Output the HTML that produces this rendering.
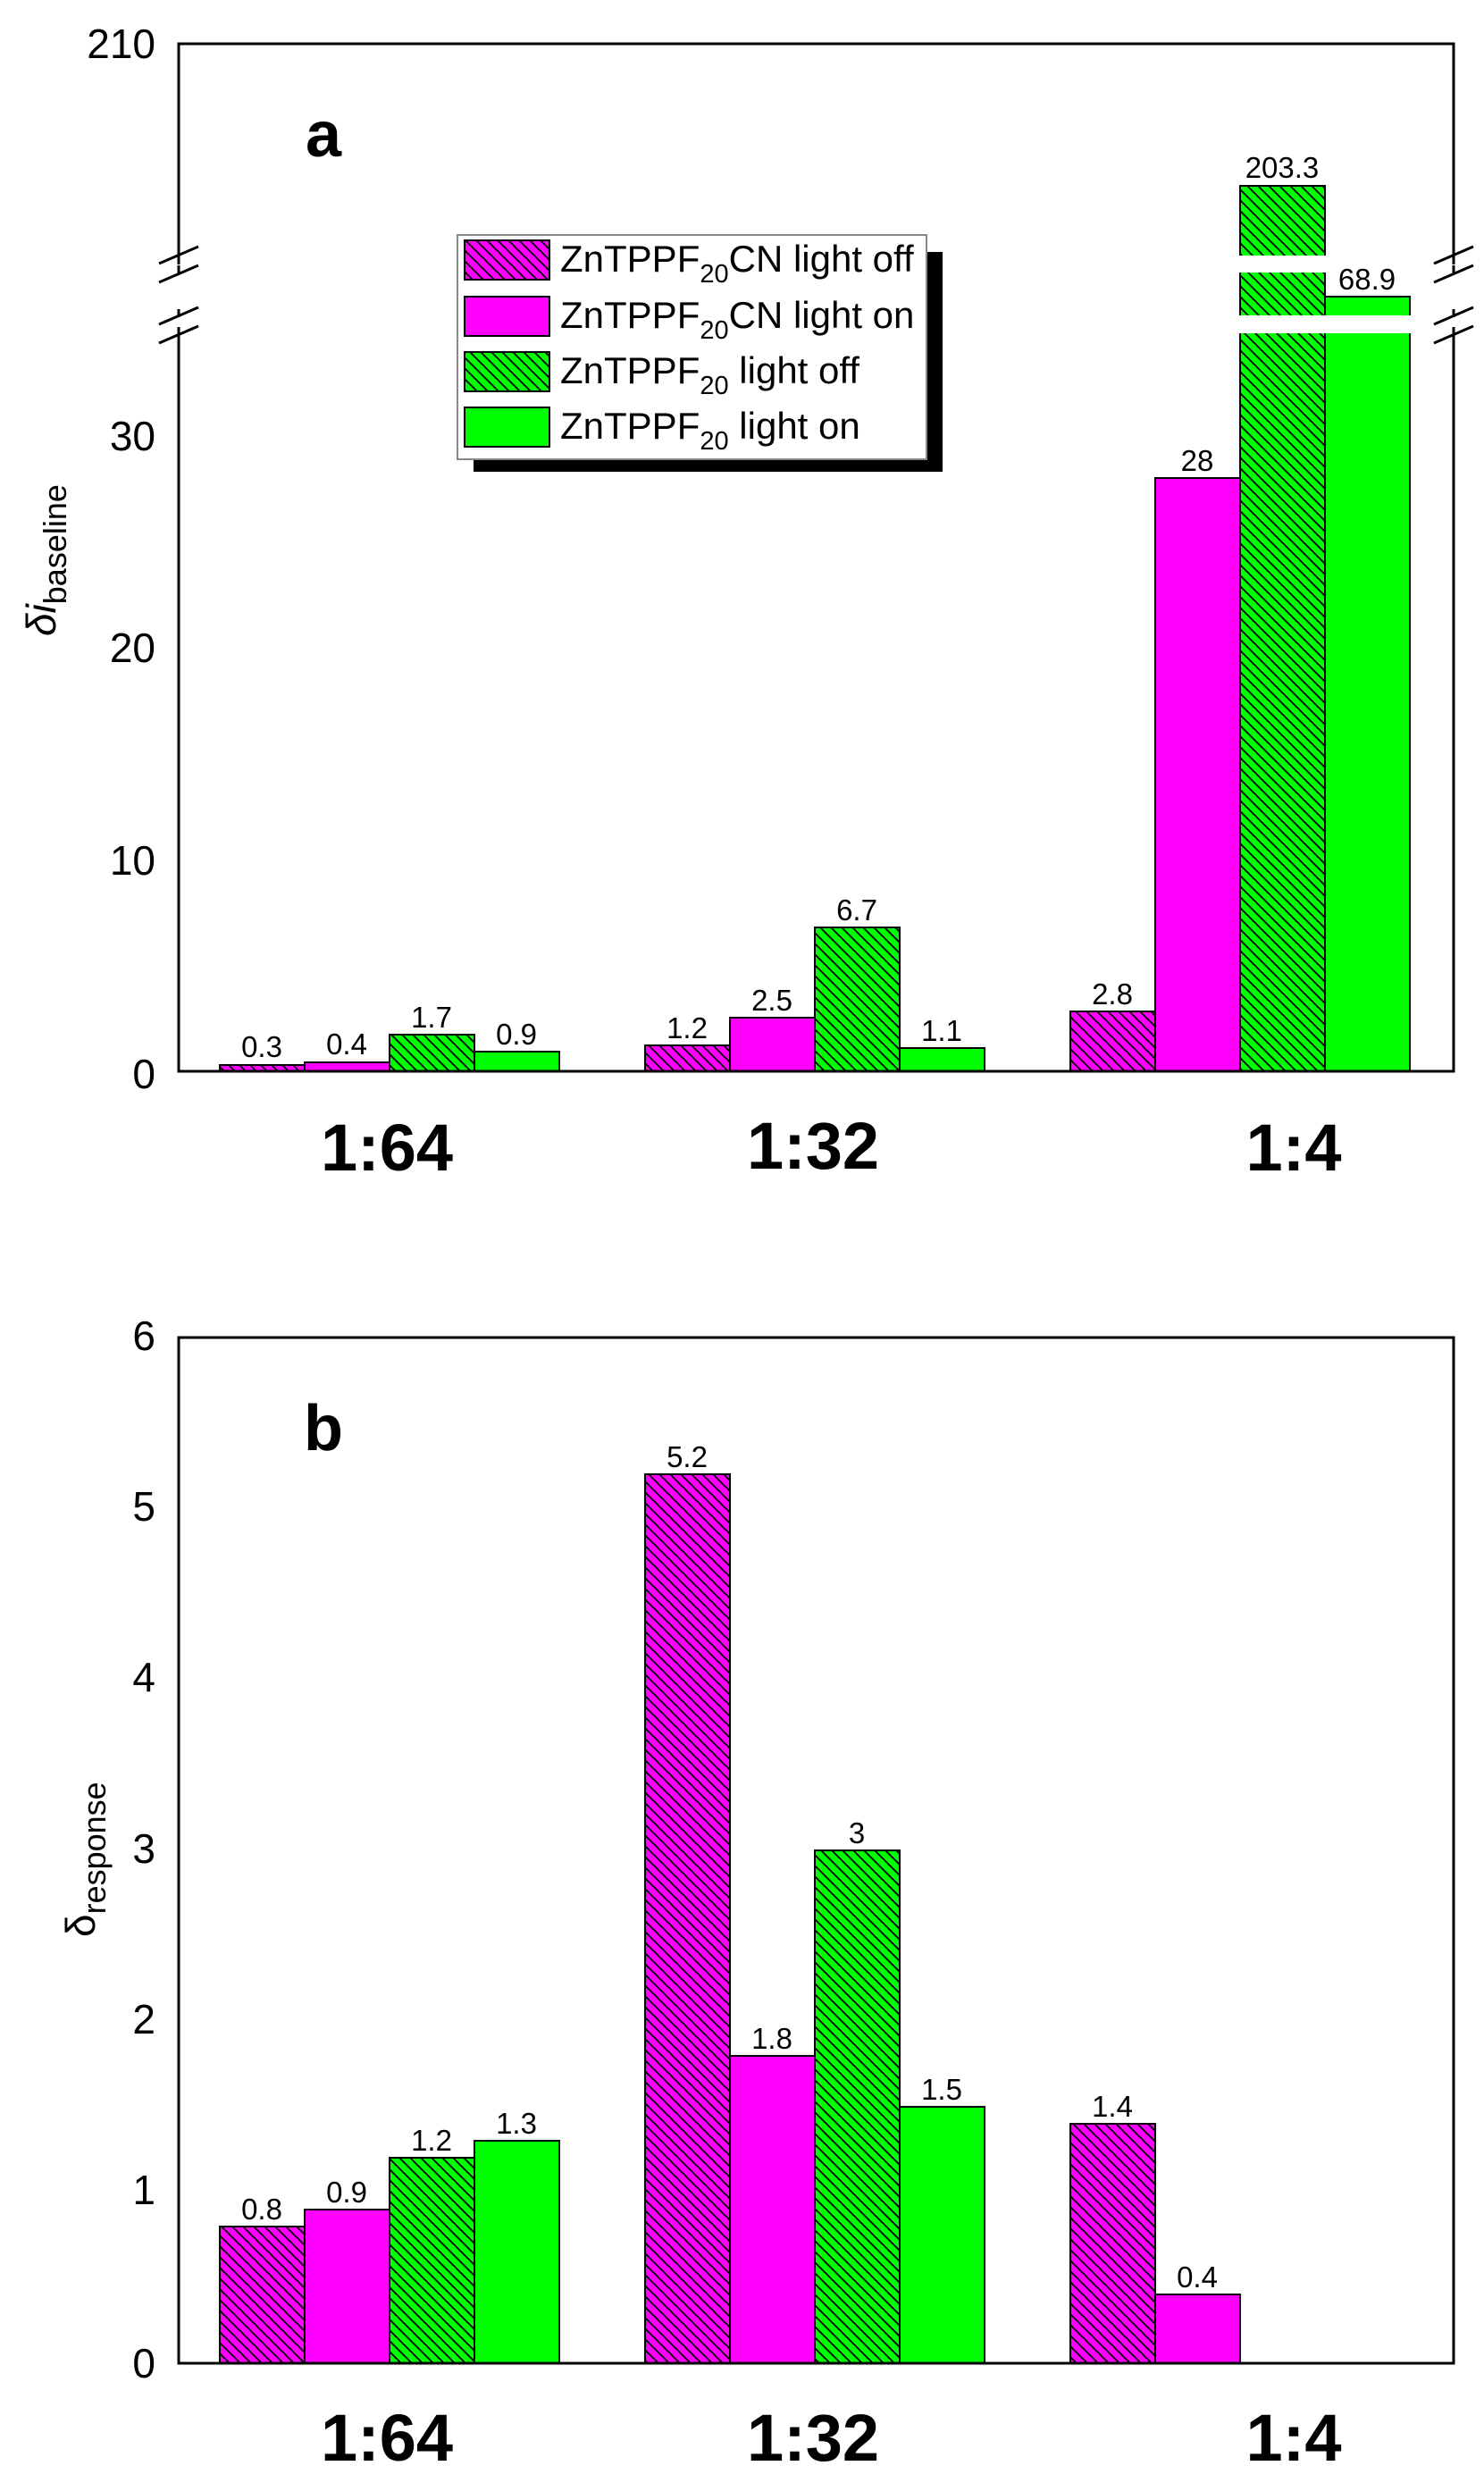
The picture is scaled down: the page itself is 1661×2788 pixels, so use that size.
<!DOCTYPE html>
<html><head><meta charset="utf-8"><style>
html,body{margin:0;padding:0;background:#fff}
svg{display:block}
text{font-family:"Liberation Sans",Arial,sans-serif;fill:#000}
</style></head><body>
<svg width="1661" height="2788" viewBox="0 0 1661 2788" xmlns="http://www.w3.org/2000/svg">
<defs>
<pattern id="hm" patternUnits="userSpaceOnUse" width="12" height="12">
<rect width="12" height="12" fill="#ff00ff"/>
<path d="M-3,-3 L15,15 M-3,9 L3,15 M9,-3 L15,3" stroke="#000" stroke-width="1.8"/>
</pattern>
<pattern id="hg" patternUnits="userSpaceOnUse" width="12" height="12">
<rect width="12" height="12" fill="#00ff00"/>
<path d="M-3,-3 L15,15 M-3,9 L3,15 M9,-3 L15,3" stroke="#000" stroke-width="1.8"/>
</pattern>
</defs>

<!-- ===== Panel a ===== -->
<g stroke="#000" stroke-width="2">
<rect x="246" y="1192" width="95" height="7" fill="url(#hm)"/>
<rect x="341" y="1189" width="95" height="10" fill="#ff00ff"/>
<rect x="436" y="1158" width="95" height="41" fill="url(#hg)"/>
<rect x="531" y="1177" width="95" height="22" fill="#00ff00"/>
<rect x="722" y="1170" width="95" height="29" fill="url(#hm)"/>
<rect x="817" y="1139" width="95" height="60" fill="#ff00ff"/>
<rect x="912" y="1038" width="95" height="161" fill="url(#hg)"/>
<rect x="1007" y="1173" width="95" height="26" fill="#00ff00"/>
<rect x="1198" y="1132" width="95" height="67" fill="url(#hm)"/>
<rect x="1293" y="535" width="95" height="664" fill="#ff00ff"/>
<rect x="1388" y="208" width="95" height="991" fill="url(#hg)"/>
<rect x="1483" y="332" width="95" height="867" fill="#00ff00"/>
</g>
<rect x="1380" y="286" width="110" height="19" fill="#fff"/>
<rect x="1380" y="353" width="205" height="20" fill="#fff"/>
<rect x="200" y="49" width="1427" height="1150" fill="none" stroke="#000" stroke-width="3"/>
<rect x="195" y="296" width="10" height="70" fill="#fff"/>
<rect x="1622" y="296" width="10" height="70" fill="#fff"/>
<g stroke="#000" stroke-width="3">
<path d="M178,295 L222,276 M178,316 L222,297 M178,363 L222,344 M178,384 L222,365"/>
<path d="M1605,295 L1649,276 M1605,316 L1649,297 M1605,363 L1649,344 M1605,384 L1649,365"/>
<path d="M200,297 V306 M200,346 V355 M1627,297 V306 M1627,346 V355"/>
</g>
<g font-size="46" text-anchor="end">
<text x="174" y="65">210</text>
<text x="174" y="504">30</text>
<text x="174" y="741">20</text>
<text x="174" y="979">10</text>
<text x="174" y="1218">0</text>
</g>
<g font-size="33" text-anchor="middle">
<text x="293" y="1183">0.3</text>
<text x="388" y="1180">0.4</text>
<text x="483" y="1150">1.7</text>
<text x="578" y="1169">0.9</text>
<text x="769" y="1162">1.2</text>
<text x="864" y="1131">2.5</text>
<text x="959" y="1030">6.7</text>
<text x="1054" y="1165">1.1</text>
<text x="1245" y="1124">2.8</text>
<text x="1340" y="527">28</text>
<text x="1435" y="199">203.3</text>
<text x="1530" y="324">68.9</text>
</g>
<text x="362" y="175" font-size="72" font-weight="bold" text-anchor="middle">a</text>
<g font-size="74" font-weight="bold" text-anchor="middle">
<text x="433" y="1310">1:64</text>
<text x="910" y="1308">1:32</text>
<text x="1448" y="1310">1:4</text>
</g>
<text transform="translate(62,712) rotate(-90)" font-size="46"><tspan font-style="italic">δi</tspan><tspan font-size="36" dy="12">baseline</tspan></text>

<!-- legend -->
<rect x="530" y="282" width="525" height="246" fill="#000"/>
<rect x="512" y="263" width="525" height="251" fill="#fff" stroke="#888" stroke-width="2"/>
<g stroke="#000" stroke-width="2">
<rect x="520" y="269" width="95" height="44" fill="url(#hm)"/>
<rect x="520" y="332" width="95" height="44" fill="#ff00ff"/>
<rect x="520" y="394" width="95" height="44" fill="url(#hg)"/>
<rect x="520" y="456" width="95" height="44" fill="#00ff00"/>
</g>
<g font-size="42">
<text x="627" y="304">ZnTPPF<tspan font-size="29" dy="12">20</tspan><tspan dy="-12">CN light off</tspan></text>
<text x="627" y="367">ZnTPPF<tspan font-size="29" dy="12">20</tspan><tspan dy="-12">CN light on</tspan></text>
<text x="627" y="429">ZnTPPF<tspan font-size="29" dy="12">20</tspan><tspan dy="-12"> light off</tspan></text>
<text x="627" y="491">ZnTPPF<tspan font-size="29" dy="12">20</tspan><tspan dy="-12"> light on</tspan></text>
</g>

<!-- ===== Panel b ===== -->
<g stroke="#000" stroke-width="2">
<rect x="246" y="2492" width="95" height="153" fill="url(#hm)"/>
<rect x="341" y="2473" width="95" height="172" fill="#ff00ff"/>
<rect x="436" y="2415" width="95" height="230" fill="url(#hg)"/>
<rect x="531" y="2396" width="95" height="249" fill="#00ff00"/>
<rect x="722" y="1650" width="95" height="995" fill="url(#hm)"/>
<rect x="817" y="2301" width="95" height="344" fill="#ff00ff"/>
<rect x="912" y="2071" width="95" height="574" fill="url(#hg)"/>
<rect x="1007" y="2358" width="95" height="287" fill="#00ff00"/>
<rect x="1198" y="2377" width="95" height="268" fill="url(#hm)"/>
<rect x="1293" y="2568" width="95" height="77" fill="#ff00ff"/>
</g>
<rect x="200" y="1497" width="1427" height="1148" fill="none" stroke="#000" stroke-width="3"/>
<g font-size="46" text-anchor="end">
<text x="174" y="1511">6</text>
<text x="174" y="1702">5</text>
<text x="174" y="1893">4</text>
<text x="174" y="2085">3</text>
<text x="174" y="2276">2</text>
<text x="174" y="2467">1</text>
<text x="174" y="2661">0</text>
</g>
<g font-size="33" text-anchor="middle">
<text x="293" y="2484">0.8</text>
<text x="388" y="2465">0.9</text>
<text x="483" y="2407">1.2</text>
<text x="578" y="2388">1.3</text>
<text x="769" y="1642">5.2</text>
<text x="864" y="2293">1.8</text>
<text x="959" y="2063">3</text>
<text x="1054" y="2350">1.5</text>
<text x="1245" y="2369">1.4</text>
<text x="1340" y="2560">0.4</text>
</g>
<text x="362" y="1623" font-size="72" font-weight="bold" text-anchor="middle">b</text>
<g font-size="74" font-weight="bold" text-anchor="middle">
<text x="433" y="2754">1:64</text>
<text x="910" y="2754">1:32</text>
<text x="1448" y="2754">1:4</text>
</g>
<text transform="translate(106,2168) rotate(-90)" font-size="46">δ<tspan font-size="36" dy="12">response</tspan></text>
</svg>
</body></html>
